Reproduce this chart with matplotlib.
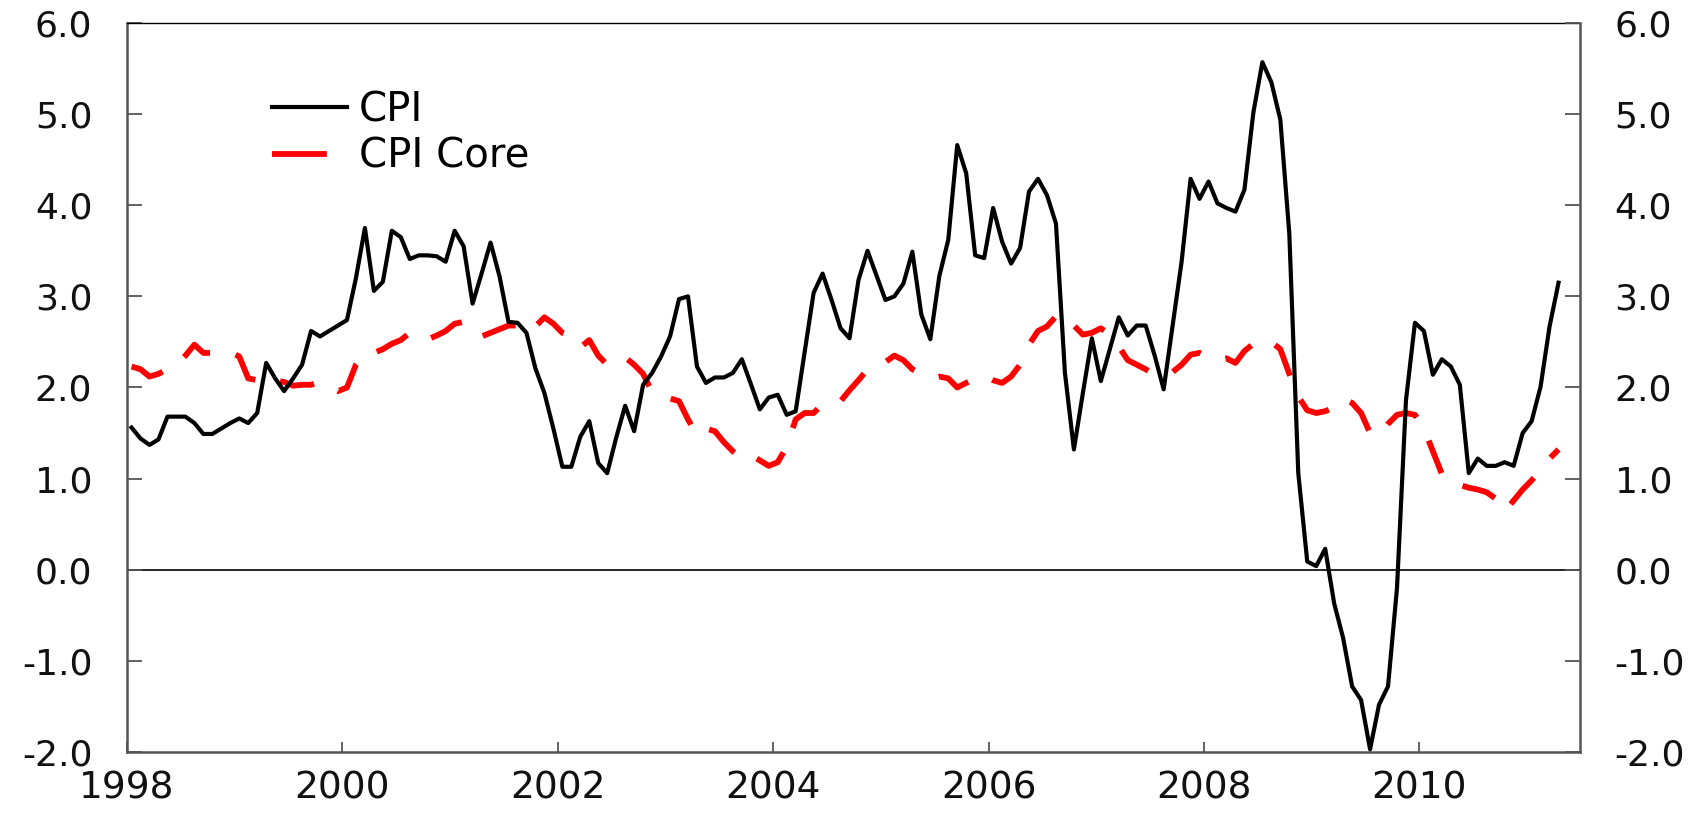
import numpy as np
import matplotlib
matplotlib.use("Agg")
import matplotlib.pyplot as plt
from matplotlib.lines import Line2D

# monthly data, Jan 1998 - Apr 2011 (year over year %)
cpi = [1.56, 1.44, 1.37, 1.43, 1.68, 1.68, 1.68, 1.61, 1.49, 1.49, 1.55, 1.61,
       1.66, 1.61, 1.72, 2.27, 2.10, 1.96, 2.10, 2.25, 2.62, 2.56, 2.62, 2.68,
       2.74, 3.20, 3.75, 3.06, 3.16, 3.72, 3.65, 3.41, 3.45, 3.45, 3.44, 3.38,
       3.72, 3.55, 2.92, 3.25, 3.59, 3.22, 2.72, 2.71, 2.60, 2.21, 1.94, 1.55,
       1.13, 1.13, 1.46, 1.63, 1.17, 1.06, 1.45, 1.80, 1.52, 2.03, 2.16, 2.34,
       2.56, 2.97, 3.00, 2.23, 2.05, 2.11, 2.11, 2.16, 2.31, 2.04, 1.76, 1.89,
       1.92, 1.70, 1.74, 2.39, 3.04, 3.25, 2.96, 2.65, 2.54, 3.18, 3.50, 3.23,
       2.96, 3.00, 3.14, 3.49, 2.80, 2.53, 3.22, 3.62, 4.66, 4.35, 3.45, 3.42,
       3.97, 3.60, 3.36, 3.53, 4.15, 4.29, 4.11, 3.80, 2.16, 1.32, 1.94, 2.54,
       2.07, 2.42, 2.77, 2.57, 2.68, 2.68, 2.35, 1.98, 2.68, 3.38, 4.29, 4.07,
       4.26, 4.02, 3.97, 3.93, 4.17, 5.02, 5.57, 5.35, 4.94, 3.69, 1.06, 0.09,
       0.04, 0.23, -0.37, -0.75, -1.28, -1.43, -1.97, -1.48, -1.28, -0.20, 1.86, 2.71,
       2.62, 2.14, 2.31, 2.23, 2.03, 1.06, 1.22, 1.14, 1.14, 1.18, 1.14, 1.50,
       1.63, 2.01, 2.67, 3.15]

cpi_core = [2.23, 2.20, 2.12, 2.15, 2.20, 2.25, 2.35, 2.47, 2.38, 2.38, 2.38, 2.39,
            2.34, 2.10, 2.08, 2.12, 2.08, 2.06, 2.02, 2.03, 2.03, 2.06, 2.02, 1.96,
            2.00, 2.25, 2.38, 2.38, 2.42, 2.48, 2.52, 2.60, 2.55, 2.53, 2.57, 2.62,
            2.70, 2.72, 2.63, 2.56, 2.60, 2.64, 2.68, 2.68, 2.61, 2.67, 2.77, 2.70,
            2.60, 2.56, 2.44, 2.52, 2.35, 2.25, 2.30, 2.33, 2.25, 2.15, 1.95, 1.90,
            1.88, 1.85, 1.65, 1.48, 1.55, 1.52, 1.40, 1.30, 1.22, 1.26, 1.20, 1.14,
            1.18, 1.35, 1.65, 1.72, 1.72, 1.82, 1.83, 1.85, 1.97, 2.08, 2.20, 2.25,
            2.28, 2.35, 2.30, 2.20, 2.15, 2.10, 2.12, 2.10, 2.00, 2.05, 2.10, 2.13,
            2.08, 2.05, 2.12, 2.25, 2.47, 2.62, 2.67, 2.78, 2.80, 2.68, 2.58, 2.60,
            2.65, 2.58, 2.45, 2.30, 2.25, 2.20, 2.14, 2.14, 2.17, 2.25, 2.36, 2.38,
            2.33, 2.30, 2.32, 2.27, 2.40, 2.48, 2.52, 2.50, 2.42, 2.15, 1.90, 1.75,
            1.72, 1.74, 1.78, 1.88, 1.83, 1.72, 1.50, 1.47, 1.60, 1.70, 1.72, 1.70,
            1.55, 1.30, 1.05, 0.94, 0.93, 0.90, 0.88, 0.85, 0.78, 0.64, 0.76, 0.88,
            0.98, 1.10, 1.22, 1.32]

start_year = 1998
year_ticks = [1998, 2000, 2002, 2004, 2006, 2008, 2010]
y_ticks = [-2, -1, 0, 1, 2, 3, 4, 5, 6]

# mid-month positions
x = start_year + (np.arange(len(cpi)) + 0.5) / 12

plt.rcParams['font.family'] = ['DejaVu Sans']
fig = plt.figure(figsize=(17.08, 8.15), dpi=100)
ax = fig.add_axes([0.0744, 0.0773, 0.8506, 0.8945])

ax.axhline(0, color='black', linewidth=1.2, zorder=1)
ax.plot(x, cpi, color='black', linewidth=3.0, zorder=3)
ax.plot(x, cpi_core, color='#ff0000', linewidth=4.2, dashes=(6, 4.5), zorder=2)

ax.set_xlim(1998.0, 2011.49)
ax.set_ylim(-2, 6)
ax.set_xticks(year_ticks)
ax.set_xticklabels([str(y) for y in year_ticks])
ax.set_yticks(y_ticks)
ax.set_yticklabels(['%.1f' % v for v in y_ticks])

spine_col = '#555555'
for side in ['left', 'bottom']:
    ax.spines[side].set_color(spine_col)
    ax.spines[side].set_linewidth(1.8)
ax.spines['top'].set_color('black')
ax.spines['top'].set_linewidth(1.0)
ax.spines['right'].set_visible(False)

ax.tick_params(axis='y', direction='in', length=11, width=1.3, color=spine_col,
               pad=25, labelsize=26, labelcolor='#111111')
ax.tick_params(axis='x', direction='in', length=7, width=1.3, color=spine_col,
               pad=13, labelsize=27, labelcolor='#111111')

ax2 = ax.twinx()
ax2.set_ylim(-2, 6)
ax2.set_yticks(y_ticks)
ax2.set_yticklabels(['%.1f' % v for v in y_ticks])
for side in ['left', 'bottom', 'top']:
    ax2.spines[side].set_visible(False)
ax2.spines['right'].set_color(spine_col)
ax2.spines['right'].set_linewidth(1.8)
ax2.tick_params(axis='y', direction='in', length=11, width=1.3, color=spine_col,
                pad=25, labelsize=26, labelcolor='#111111')

# legend handles: one solid line, one single long dash
handles = [Line2D([], [], color='black', linewidth=3.0),
           Line2D([], [], color='#ff0000', linewidth=4.2, dashes=(9.4, 6))]
ax.legend(handles, ['CPI', 'CPI Core'], loc='upper left',
          bbox_to_anchor=(0.0998, 0.908), frameon=False,
          fontsize=29, handlelength=1.85, handletextpad=0.3, labelspacing=0.17,
          borderpad=0, borderaxespad=0)

fig.savefig('out.png', dpi=100)
